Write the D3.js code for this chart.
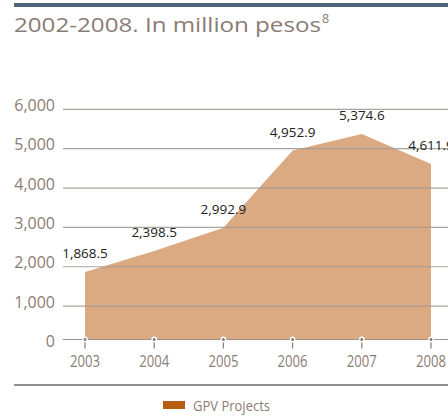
<!DOCTYPE html>
<html>
<head>
<meta charset="utf-8">
<script src="https://cdn.jsdelivr.net/npm/d3@7"></script>
<style>
  html, body { margin: 0; padding: 0; background: #fff; }
  svg { display: block; }
</style>
</head>
<body>
<svg id="chart" width="448" height="416"></svg>
<script>
const years = [2003, 2004, 2005, 2006, 2007, 2008];
const gpvValues = [1868.5, 2398.5, 2992.9, 4952.9, 5374.6, 4611.9];
const yTicks = [0, 1000, 2000, 3000, 4000, 5000, 6000];
const titleText = "2002-2008. In million pesos";
const titleNote = "8";
const legendLabel = "GPV Projects";

const textColor = "#8a7c74";
const svg = d3.select("#chart");

const x = d3.scaleLinear().domain([2003, 2008]).range([85, 431]);
const y = d3.scaleLinear().domain([0, 6000]).range([345.5, 109.3]);
const baseY = y(0) - 6;

// top bar
svg.append("rect").attr("x", 14).attr("y", 3).attr("width", 434).attr("height", 4).attr("fill", "#4e6678");

// title
const title = svg.append("text")
  .attr("x", 14).attr("y", 31.5)
  .attr("font-family", "'Open Sans', sans-serif")
  .attr("font-size", 20)
  .attr("fill", textColor);
title.append("tspan").attr("textLength", 307).attr("lengthAdjust", "spacingAndGlyphs").text(titleText);
title.append("tspan").attr("x", 322).attr("y", 23).attr("font-size", 12.5).text(titleNote);

const data = years.map((yr, i) => ({ year: yr, value: gpvValues[i] }));

// area
const area = d3.area()
  .x(d => x(d.year))
  .y0(baseY)
  .y1(d => y(d.value));
svg.append("path").datum(data).attr("d", area).attr("fill", "#dcaa82");

// gridlines
svg.append("g").selectAll("line")
  .data(yTicks.filter(t => t > 0))
  .join("line")
  .attr("x1", 63).attr("x2", 448)
  .attr("y1", d => y(d)).attr("y2", d => y(d))
  .attr("stroke", "#9f9a96").attr("stroke-width", 1.2).attr("stroke-opacity", 0.9);

// zero line
svg.append("line").attr("x1", 63).attr("x2", 448).attr("y1", baseY).attr("y2", baseY)
  .attr("stroke", "#9a928c").attr("stroke-width", 1.2);

// y labels
svg.append("g").selectAll("text")
  .data(yTicks)
  .join("text")
  .attr("x", 55).attr("y", d => y(d) + 1.5)
  .attr("text-anchor", "end")
  .attr("font-family", "'Open Sans', sans-serif")
  .attr("font-size", 16)
  .attr("fill", textColor)
  .text(d => d3.format(",")(d));

// x ticks
const tk = svg.append("g").selectAll("g").data(years).join("g")
  .attr("transform", d => `translate(${x(d)},0)`);
tk.append("line").attr("y1", baseY).attr("y2", baseY + 9)
  .attr("stroke", "#8a7c74").attr("stroke-width", 1.2);
tk.append("circle").attr("cy", baseY).attr("r", 2.2)
  .attr("fill", "#7d746e").attr("stroke", "#fff").attr("stroke-width", 1.4);
tk.append("text").attr("x", -15).attr("y", 366.5)
  .attr("font-family", "'Open Sans', sans-serif")
  .attr("font-size", 16.5)
  .attr("textLength", 30).attr("lengthAdjust", "spacingAndGlyphs")
  .attr("fill", textColor)
  .text(d => d);

// data labels
svg.append("g").selectAll("text").data(data).join("text")
  .attr("x", d => x(d.year)).attr("y", d => y(d.value) - 14)
  .attr("text-anchor", "middle")
  .attr("font-family", "'Open Sans', sans-serif")
  .attr("font-size", 13.5)
  .attr("fill", "#222")
  .text(d => d3.format(",.1f")(d.value));

// bottom rule
svg.append("line").attr("x1", 14).attr("x2", 448).attr("y1", 385).attr("y2", 385)
  .attr("stroke", "#222").attr("stroke-width", 1.2);

// legend
svg.append("rect").attr("x", 163).attr("y", 401).attr("width", 22).attr("height", 8).attr("fill", "#b95d10");
svg.append("text").attr("x", 193).attr("y", 411)
  .attr("font-family", "'Open Sans', sans-serif")
  .attr("font-size", 14)
  .attr("textLength", 77).attr("lengthAdjust", "spacingAndGlyphs")
  .attr("fill", textColor)
  .text(legendLabel);
</script>
</body>
</html>
